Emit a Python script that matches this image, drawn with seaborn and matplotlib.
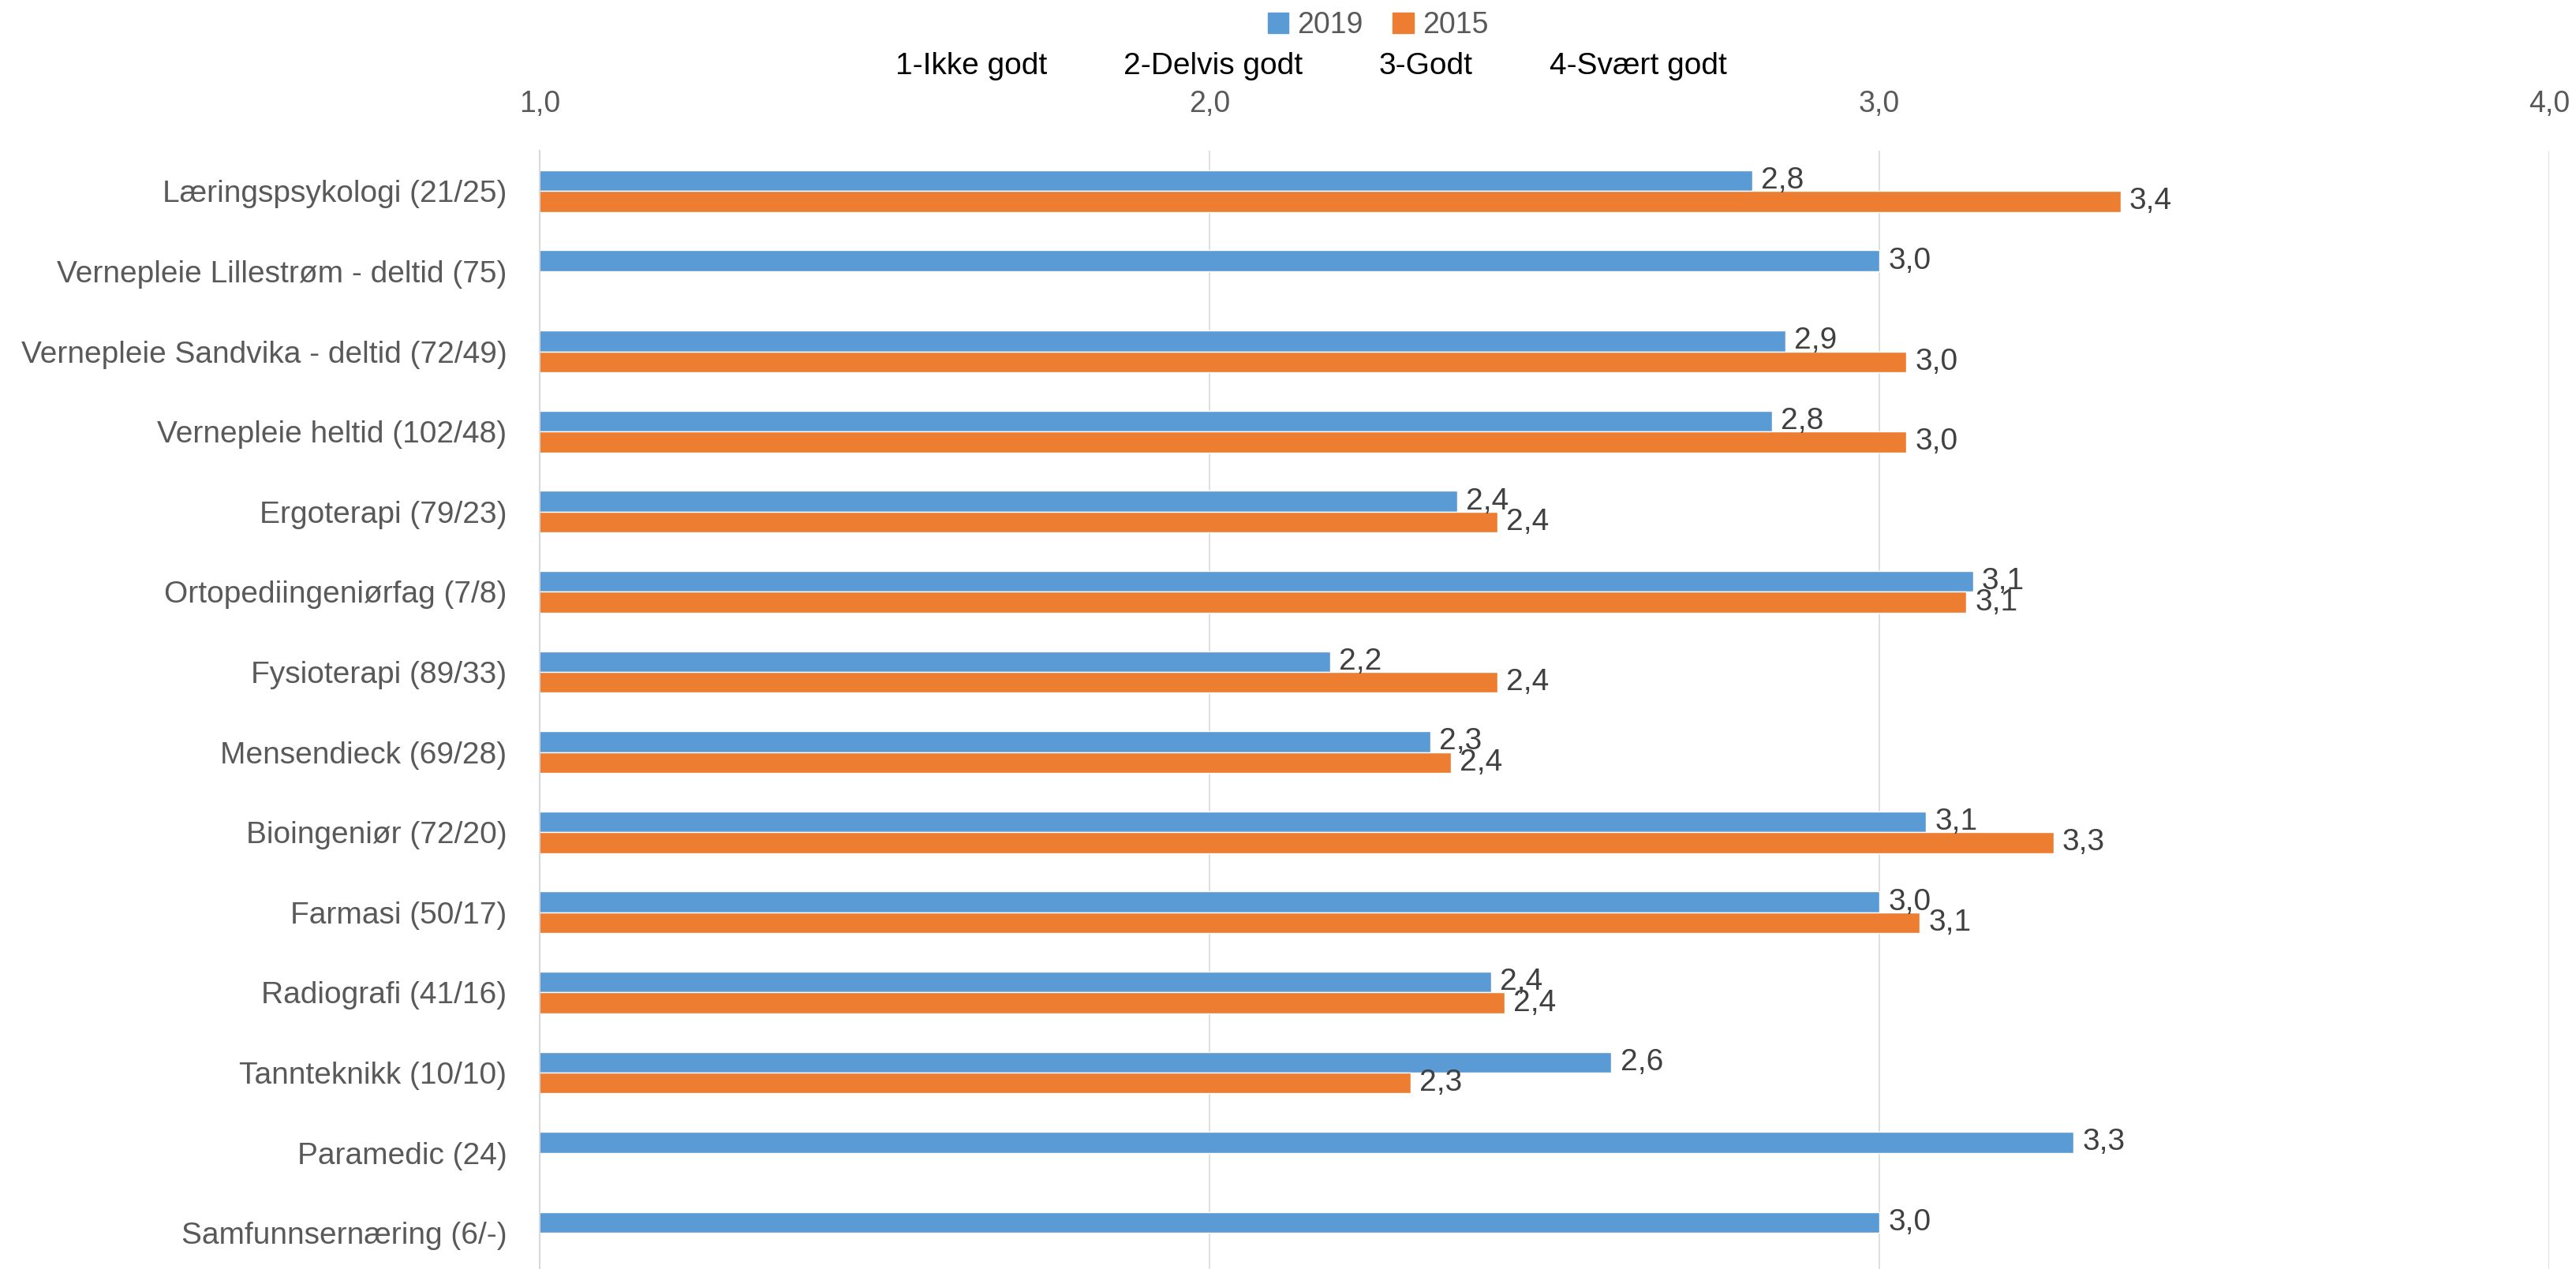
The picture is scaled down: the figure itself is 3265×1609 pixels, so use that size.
import numpy as np
import pandas as pd
import matplotlib
matplotlib.use('Agg')
import matplotlib.pyplot as plt
from matplotlib import font_manager
from matplotlib.ticker import FuncFormatter
import seaborn as sns

# Data
categories = [
    "Læringspsykologi (21/25)",
    "Vernepleie Lillestrøm - deltid (75)",
    "Vernepleie Sandvika - deltid (72/49)",
    "Vernepleie heltid (102/48)",
    "Ergoterapi (79/23)",
    "Ortopediingeniørfag (7/8)",
    "Fysioterapi (89/33)",
    "Mensendieck (69/28)",
    "Bioingeniør (72/20)",
    "Farmasi (50/17)",
    "Radiografi (41/16)",
    "Tannteknikk (10/10)",
    "Paramedic (24)",
    "Samfunnsernæring (6/-)",
]
values_2019 = [2.81, 3.00, 2.86, 2.84, 2.37, 3.14, 2.18, 2.33, 3.07, 3.00, 2.42, 2.60, 3.29, 3.00]
values_2015 = [3.36, np.nan, 3.04, 3.04, 2.43, 3.13, 2.43, 2.36, 3.26, 3.06, 2.44, 2.30, np.nan, np.nan]
years = ["2019", "2015"]
scale_labels = ["1-Ikke godt", "2-Delvis godt", "3-Godt", "4-Svært godt"]
x_ticks = [1.0, 2.0, 3.0, 4.0]

colors = {"2019": "#5B9BD5", "2015": "#ED7D31"}

df = pd.concat([
    pd.DataFrame({"kategori": categories, "verdi": values_2019, "år": "2019"}),
    pd.DataFrame({"kategori": categories, "verdi": values_2015, "år": "2015"}),
], ignore_index=True)

sns.set_style("white")
names = {f.name for f in font_manager.fontManager.ttflist}
main_font = "Liberation Sans Narrow" if "Liberation Sans Narrow" in names else "Liberation Sans"
plt.rcParams['font.family'] = [main_font, 'DejaVu Sans']

fig = plt.figure(figsize=(32.65, 16.09), dpi=100)
ax = fig.add_axes([0.2095, 0.0, 0.7801, 0.881])

sns.barplot(data=df, y="kategori", x="verdi", hue="år", hue_order=years,
            order=categories, palette=colors, width=0.52, gap=0,
            orient="h", ax=ax, legend=False, errorbar=None, saturation=1)

for cont in ax.containers:
    ax.bar_label(cont, fmt=lambda v: f"{v:.1f}".replace('.', ','),
                 padding=8, fontsize=28, color="#404040")

ax.set_xlim(1.0, 4.0)
ax.set_ylim(13.45, -0.5)
ax.set_xticks(x_ticks)
ax.xaxis.set_major_formatter(FuncFormatter(lambda v, p: f"{v:.1f}".replace('.', ',')))
ax.xaxis.tick_top()
ax.tick_params(axis='x', length=0, pad=30, labelsize=27, labelcolor="#595959")
ax.tick_params(axis='y', length=0, pad=30, labelsize=28, labelcolor="#595959")
ax.grid(axis='x', color="#D9D9D9", linewidth=1.2)
ax.set_axisbelow(True)
for s in ["top", "right", "bottom"]:
    ax.spines[s].set_visible(False)
ax.spines["left"].set_color("#D9D9D9")
ax.spines["left"].set_linewidth(1.5)
ax.set_xlabel("")
ax.set_ylabel("")

# legend at the top
handles = [plt.Rectangle((0, 0), 1, 1, color=colors[y]) for y in years]
fig.legend(handles, years, loc="center", bbox_to_anchor=(0.535, 0.98), ncol=2,
           frameon=False, fontsize=27, labelcolor="#595959", handlelength=0.7,
           handleheight=0.7, handletextpad=0.3, columnspacing=1.0)

# scale descriptions
for lbl, xl in zip(scale_labels, [1135, 1424, 1748, 1964]):
    fig.text(xl / 3265, 1 - 84 / 1609, lbl, ha="left", va="center",
             fontsize=28, color="black")

fig.savefig("out.png", dpi=100)
